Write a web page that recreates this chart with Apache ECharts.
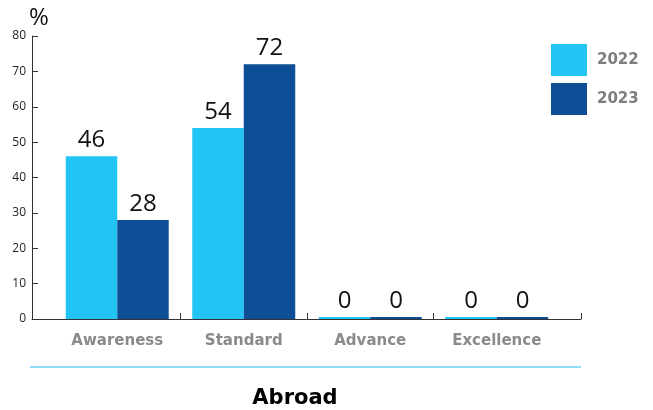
<!DOCTYPE html>
<html><head><meta charset="utf-8">
<script src="https://cdn.jsdelivr.net/npm/echarts@6/dist/echarts.min.js"></script>
<style>html,body{margin:0;padding:0;background:#fff}#c{width:653px;height:410px}</style>
</head><body><div id="c"></div>
<script>
const categories = ['Awareness', 'Standard', 'Advance', 'Excellence'];
const values2022 = [46, 54, 0, 0];
const values2023 = [28, 72, 0, 0];
const seriesNames = ['2022', '2023'];
const yTicks = [0, 10, 20, 30, 40, 50, 60, 70, 80];

const W = 653;
const plotL = 54, plotR = 93;              // grid of the bars
const catW = (W - plotL - plotR) / categories.length;

const chart = echarts.init(document.getElementById('c'));
const font = '"Open Sans", "Noto Sans", sans-serif';
const boldFont = '"DejaVu Sans", sans-serif';
const labelStyle = { show: true, position: 'top', fontSize: 24, color: '#111', fontFamily: font, distance: 4 };
const tickStyle = { show: true, inside: true, length: 6, lineStyle: { color: '#333' } };
chart.setOption({
  animation: false,
  textStyle: { fontFamily: font },
  grid: [
    { left: plotL, right: plotR, top: 36, bottom: 91 },
    { left: 32, right: 72, top: 36, bottom: 91 },
    { left: plotL + catW, right: plotR + catW, top: 36, bottom: 91 }
  ],
  title: { text: 'Abroad', left: 290, textAlign: 'center', top: 383,
    textStyle: { fontSize: 21, fontWeight: 'bold', color: '#000', fontFamily: boldFont } },
  legend: { left: 551, top: 44, padding: 0, orient: 'vertical', itemWidth: 36, itemHeight: 32, itemGap: 7,
    icon: 'rect', data: seriesNames,
    textStyle: { fontSize: 15, fontWeight: 'bold', color: '#7d7d7d', fontFamily: boldFont, padding: [0, 0, 0, 5] } },
  graphic: [{ type: 'line', z: 10, shape: { x1: 30, y1: 367, x2: 581, y2: 367 },
    style: { stroke: '#1fbbea', lineWidth: 1.2 } }],
  xAxis: [{
    type: 'category', data: categories, gridIndex: 0,
    axisLine: { show: false }, axisTick: { show: false },
    axisLabel: { fontSize: 15, fontWeight: 'bold', color: '#8a8a8a', margin: 15, fontFamily: boldFont }
  }, {
    type: 'value', gridIndex: 1, min: 0, max: 1, interval: 1,
    axisLine: { show: true, lineStyle: { color: '#333', width: 1 } },
    axisTick: tickStyle, axisLabel: { show: false }, splitLine: { show: false }
  }, {
    type: 'value', gridIndex: 2, min: 0, max: categories.length - 2, interval: 1,
    axisLine: { show: false },
    axisTick: tickStyle, axisLabel: { show: false }, splitLine: { show: false }
  }],
  yAxis: [{
    type: 'value', gridIndex: 0, offset: plotL - 32, min: yTicks[0], max: yTicks[yTicks.length - 1], interval: 10,
    name: '%', nameLocation: 'end', nameGap: 2,
    nameTextStyle: { fontSize: 24, color: '#111', align: 'left', padding: [0, 0, 0, -3] },
    splitLine: { show: false },
    axisLine: { show: true, lineStyle: { color: '#333', width: 1 } },
    axisTick: tickStyle,
    axisLabel: { fontSize: 12, color: '#222', margin: 6 }
  }, {
    type: 'value', gridIndex: 1, show: false, min: 0, max: 1
  }, {
    type: 'value', gridIndex: 2, show: false, min: 0, max: 1
  }],
  series: [
    { name: seriesNames[0], type: 'bar', data: values2022, barGap: '0%', barCategoryGap: '18.6%',
      barMinHeight: 2, itemStyle: { color: '#21c4f3' }, label: labelStyle },
    { name: seriesNames[1], type: 'bar', data: values2023, barGap: '0%', barCategoryGap: '18.6%',
      barMinHeight: 2, itemStyle: { color: '#0e4e96' }, label: labelStyle }
  ]
});
</script></body></html>
